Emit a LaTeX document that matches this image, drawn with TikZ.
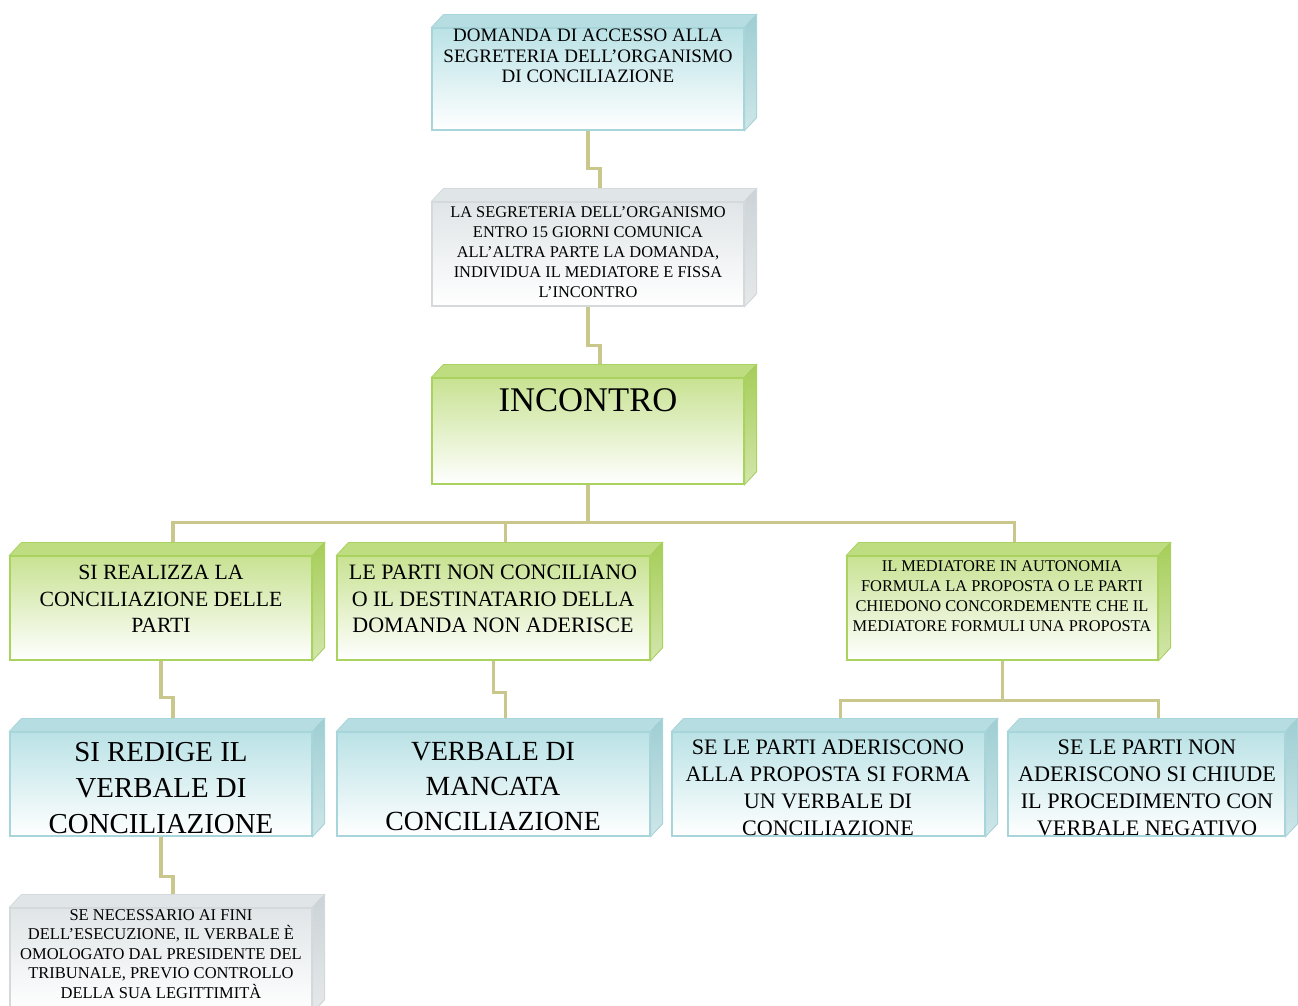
\documentclass[tikz,border=0pt]{standalone}
\usepackage{fontspec}
\setmainfont{Liberation Serif}
\usetikzlibrary{calc}

\definecolor{ciano}{RGB}{186,226,230}
\definecolor{ciano-alto}{RGB}{182,222,226}
\definecolor{ciano-lato}{RGB}{158,206,211}
\definecolor{ciano-bordo}{RGB}{168,213,217}
\definecolor{verde}{RGB}{200,226,146}
\definecolor{verde-alto}{RGB}{190,221,128}
\definecolor{verde-lato}{RGB}{166,205,88}
\definecolor{verde-bordo}{RGB}{170,210,95}
\definecolor{grigio}{RGB}{224,229,231}
\definecolor{grigio-alto}{RGB}{224,229,231}
\definecolor{grigio-lato}{RGB}{204,211,214}
\definecolor{grigio-bordo}{RGB}{212,218,220}
\definecolor{linea}{RGB}{202,199,140}

\begin{document}
\begin{tikzpicture}[x=1pt,y=-1pt,
    scatola/.style={draw=#1-bordo, line width=1.2pt, top color=#1, middle color=#1!35!white,
        bottom color=white, minimum height=104pt, inner sep=0pt},
    testo/.style={anchor=north, align=center, inner sep=0pt, text=black},
    collegamento/.style={draw=linea, line width=3.5pt}]
    \useasboundingbox (0,0) rectangle (1298,1005);

    % scatole
    \begin{scope}[every node/.style={minimum width=312pt}]
        \node[scatola=ciano, minimum height=102pt] (domanda) at (588,79) {};
        \node[scatola=grigio] (segreteria) at (588,254) {};
        \node[scatola=verde, minimum height=106pt] (incontro) at (588,431) {};
        \node[scatola=verde, minimum width=302pt] (realizza) at (161,608) {};
        \node[scatola=verde, minimum width=313pt] (nonconciliano) at (493.5,608) {};
        \node[scatola=verde, minimum width=311pt] (mediatore) at (1002.5,608) {};
        \node[scatola=ciano, minimum width=302pt] (redige) at (161,784) {};
        \node[scatola=ciano, minimum width=313pt] (mancata) at (493.5,784) {};
        \node[scatola=ciano, minimum width=313pt] (aderiscono) at (828.5,784) {};
        \node[scatola=ciano, minimum width=277pt] (nonaderiscono) at (1146.5,784) {};
        \node[scatola=grigio, minimum width=302pt] (omologato) at (161,960) {};
    \end{scope}

    % facce in rilievo
    \foreach \n/\c in {domanda/ciano, segreteria/grigio, incontro/verde, realizza/verde,
        nonconciliano/verde, mediatore/verde, redige/ciano, mancata/ciano,
        aderiscono/ciano, nonaderiscono/ciano, omologato/grigio} {
        \filldraw[fill=\c-alto, draw=\c-bordo, line width=0.8pt] (\n.north west) -- ++(12,-13)
            -- ($(\n.north east)+(12,-13)$) -- (\n.north east) -- cycle;
        \filldraw[top color=\c-lato, bottom color=\c-lato!50!white, draw=\c-bordo, line width=0.8pt]
            (\n.north east) -- ++(12,-13) -- ($(\n.south east)+(12,-13)$) -- (\n.south east) -- cycle;
        \coordinate (\n-top) at ($(\n.north)+(12,-13)$);
    }

    % testi
    \node[testo, font=\fontsize{19}{20.5}\selectfont] (t-domanda) at (588,29)
        {DOMANDA DI ACCESSO ALLA\\SEGRETERIA DELL'ORGANISMO\\DI CONCILIAZIONE};
    \node[testo, font=\fontsize{16.4}{20}\selectfont] (t-segreteria) at (588,206)
        {LA SEGRETERIA DELL'ORGANISMO\\ENTRO 15 GIORNI COMUNICA\\ALL'ALTRA PARTE LA DOMANDA,\\INDIVIDUA IL MEDIATORE E FISSA\\L'INCONTRO};
    \node[testo, font=\fontsize{34.6}{40}\selectfont] (t-incontro) at (588,388) {INCONTRO};
    \node[testo, font=\fontsize{21.7}{26.5}\selectfont] (t-realizza) at (161,565)
        {SI REALIZZA LA\\CONCILIAZIONE DELLE\\PARTI};
    \node[testo, font=\fontsize{22}{26.5}\selectfont] (t-nonconciliano) at (493,565)
        {LE PARTI NON CONCILIANO\\O IL DESTINATARIO DELLA\\DOMANDA NON ADERISCE};
    \node[testo, font=\fontsize{16.4}{20}\selectfont] (t-mediatore) at (1002,560)
        {IL MEDIATORE IN AUTONOMIA\\FORMULA LA PROPOSTA O LE PARTI\\CHIEDONO CONCORDEMENTE CHE IL\\MEDIATORE FORMULI UNA PROPOSTA};
    \node[testo, font=\fontsize{28.9}{36}\selectfont] (t-redige) at (161,742)
        {SI REDIGE IL\\VERBALE DI\\CONCILIAZIONE};
    \node[testo, font=\fontsize{27.7}{35}\selectfont] (t-mancata) at (493,742)
        {VERBALE DI\\MANCATA\\CONCILIAZIONE};
    \node[testo, font=\fontsize{22.1}{27}\selectfont] (t-aderiscono) at (828,740)
        {SE LE PARTI ADERISCONO\\ALLA PROPOSTA SI FORMA\\UN VERBALE DI\\CONCILIAZIONE};
    \node[testo, font=\fontsize{22.2}{27}\selectfont] (t-nonaderiscono) at (1147,740)
        {SE LE PARTI NON\\ADERISCONO SI CHIUDE\\IL PROCEDIMENTO CON\\VERBALE NEGATIVO};
    \node[testo, font=\fontsize{16.5}{19.5}\selectfont] (t-omologato) at (161,909)
        {SE NECESSARIO AI FINI\\DELL'ESECUZIONE, IL VERBALE È\\OMOLOGATO DAL PRESIDENTE DEL\\TRIBUNALE, PREVIO CONTROLLO\\DELLA SUA LEGITTIMITÀ};

    % collegamenti
    \begin{scope}[every path/.style={collegamento}]
        \path (domanda.south) -- ++(0,38) -| (segreteria-top);
        \path (segreteria.south) -- ++(0,39) -| (incontro-top);
        \path (incontro.south) -- ++(0,38) coordinate (bus1);
        \path (realizza-top) |- (bus1) -| (mediatore-top);
        \path (nonconciliano-top) -- (nonconciliano-top |- bus1);
        \path (realizza.south) -- ++(0,37) -| (redige-top);
        \path (nonconciliano.south) -- ++(0,32) -| (mancata-top);
        \path (mediatore.south) -- ++(0,40) coordinate (bus2);
        \path (aderiscono-top) |- (bus2) -| (nonaderiscono-top);
        \path (redige.south) -- ++(0,40) -| (omologato-top);
    \end{scope}
\end{tikzpicture}
\end{document}
